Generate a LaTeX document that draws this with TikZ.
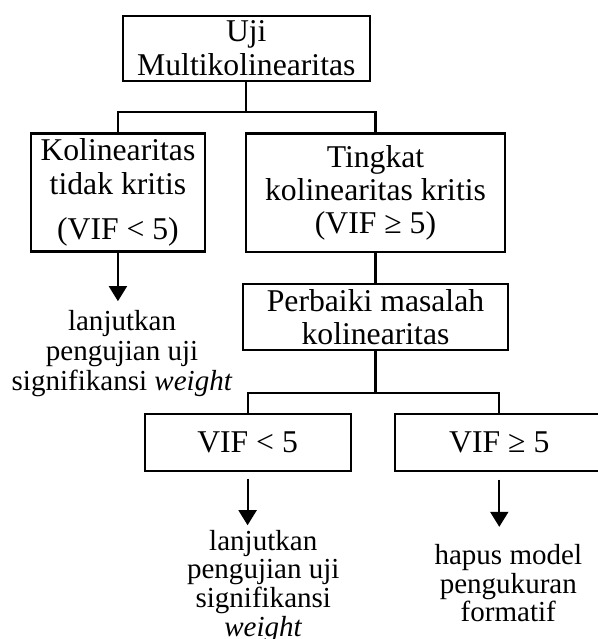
\documentclass[tikz,border=0pt]{standalone}
\usepackage{fontspec}
\setmainfont{Liberation Serif}
\usetikzlibrary{arrows.meta, positioning}

\begin{document}
\begin{tikzpicture}[
    node distance=0.7cm,
    block/.style={
        rectangle,
        draw=black,
        line width=0.8pt,
        align=center,
        inner sep=2pt,
        font=\fontsize{12}{12.6}\selectfont
    },
    note/.style={
        align=center,
        inner sep=0pt,
        font=\fontsize{11}{10.9}\selectfont
    },
    line/.style={
        line width=0.8pt
    },
    arrow/.style={
        -{Triangle[width=6.8pt, length=5.7pt]},
        line width=0.8pt
    }
]

\useasboundingbox (-3.279,0.642) rectangle (4.669,-7.865);

\node[block, minimum width=3.288cm, minimum height=0.821cm] (uji) {Uji\\Multikolinearitas};
\node[block, below=0.674cm of uji, xshift=-1.709cm, minimum width=2.312cm, minimum height=1.566cm] (tidak) {Kolinearitas\\tidak kritis\\[4.6pt](VIF < 5)};
\node[block, below=0.674cm of uji, xshift=1.720cm, minimum width=3.456cm, minimum height=1.579cm] (kritis) {Tingkat\\kolinearitas kritis\\(VIF ≥ 5)};
\node[block, below=0.398cm of kritis, minimum width=3.519cm, minimum height=0.857cm] (perbaiki) {Perbaiki masalah\\kolinearitas};
\node[block, below=0.815cm of perbaiki, xshift=-1.703cm, minimum width=2.742cm, minimum height=0.768cm] (vifkecil) {VIF < 5};
\node[block, below=0.815cm of perbaiki, xshift=1.648cm, minimum width=2.788cm, minimum height=0.768cm] (vifbesar) {VIF ≥ 5};

\draw[line] (uji.south) -- ++(0,-0.405) -| (tidak.north);
\draw[line] (uji.south) -- ++(0,-0.405) -| (kritis.north);
\draw[line] (kritis) -- (perbaiki);
\draw[line] (perbaiki.south) -- ++(0,-0.555) -| (vifkecil.north);
\draw[line] (perbaiki.south) -- ++(0,-0.555) -| (vifbesar.north);

\node[note, font=\fontsize{11}{11.4}\selectfont, below=0.757cm of tidak, xshift=0.055cm] (lanjut1) {lanjutkan\\pengujian uji\\signifikansi \textit{weight}};
\node[note, below=0.761cm of vifkecil, xshift=0.209cm] (lanjut2) {lanjutkan\\pengujian uji\\signifikansi\\\textit{weight}};
\node[note, below=0.951cm of vifbesar, xshift=0.12cm] (hapus) {hapus model\\pengukuran\\formatif};

\draw[arrow, shorten >=3.1pt] (tidak) -- (tidak |- lanjut1.north);
\draw[arrow, shorten <=2.4pt, shorten >=1.6pt] (vifkecil) -- (vifkecil |- lanjut2.north);
\draw[arrow, shorten <=2.8pt, shorten >=6.4pt] (vifbesar) -- (vifbesar |- hapus.north);

\end{tikzpicture}
\end{document}
